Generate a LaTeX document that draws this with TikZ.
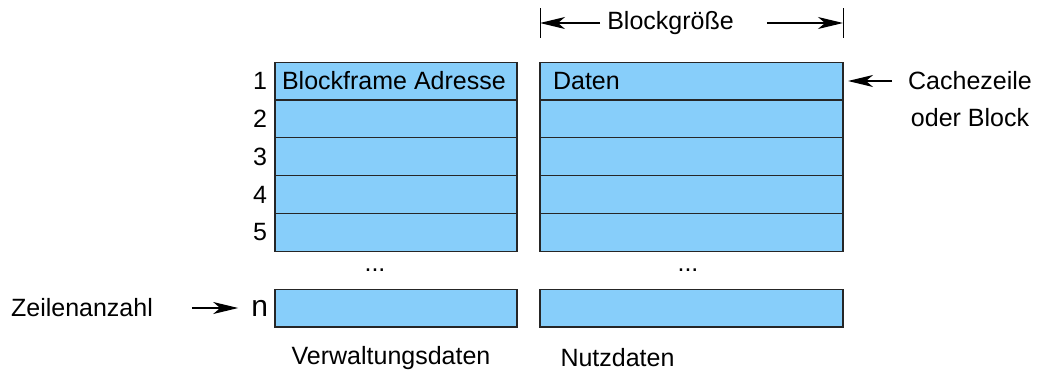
\documentclass[tikz,border=0pt]{standalone}
\usepackage{fontspec}
\setmainfont{Liberation Sans}
\usetikzlibrary{positioning,arrows.meta}
\definecolor{cellblue}{RGB}{135,206,250}

\begin{document}
\begin{tikzpicture} [
	x=0.5pt, y=-0.5pt,
	font=\fontsize{12.5}{18.5}\selectfont,
	node distance=0pt,
	cell/.style={
		rectangle,draw=black!85,line width=0.6pt,
		fill=cellblue,minimum height=18.9pt,outer sep=0pt,inner sep=0pt
	},
	lrow/.style={cell,minimum width=121pt},
	rrow/.style={cell,minimum width=151.5pt},
	arr/.style={-{Stealth[length=12.5pt,width=6pt,inset=3.5pt]},line width=0.6pt}
]
\useasboundingbox (0,0) rectangle (1037,376);
\node [lrow]	(adr1) at (396,81)		{};
\node [lrow]	(adr2)[below=of adr1]	{};
\node [lrow]	(adr3)[below=of adr2]	{};
\node [lrow]	(adr4)[below=of adr3]	{};
\node [lrow]	(adr5)[below=of adr4]	{};
\node [lrow]	(adrn) at (396,308)		{};
\node [rrow]	(dat1) at (691.5,81)	{};
\node [rrow]	(dat2)[below=of dat1]	{};
\node [rrow]	(dat3)[below=of dat2]	{};
\node [rrow]	(dat4)[below=of dat3]	{};
\node [rrow]	(dat5)[below=of dat4]	{};
\node [rrow]	(datn) at (691.5,308)	{};
\node [anchor=west]	(adrtxt) at (adr1.west)	{Blockframe Adresse};
\node [anchor=west]	(dattxt)[right=3pt of dat1.west]	{Daten};
\node	(num1)[left=0.5pt of adr1]	{1};
\node	(num2)[left=0.5pt of adr2]	{2};
\node	(num3)[left=0.5pt of adr3]	{3};
\node	(num4)[left=0.5pt of adr4]	{4};
\node	(num5)[left=0.5pt of adr5]	{5};
\node [font=\fontsize{15}{18}\selectfont]	(numn)[left=0pt of adrn]	{n};
\node	(ldots) at (375,270)	{...};
\node	(rdots) at (688,270)	{...};
\node	(verw) at (391,358)	{Verwaltungsdaten};
\node	(nutz) at (617.5,358)	{Nutzdaten};
% Blockgroesse
\node	(bsize) at (670.5,23)	{Blockgröße};
\coordinate (bsl) at (dat1.north west |- bsize);
\coordinate (bsr) at (dat1.north east |- bsize);
\draw [line width=0.5pt] ([yshift=7.5pt]bsl) -- ([yshift=-7.5pt]bsl);
\draw [line width=0.5pt] ([yshift=7.5pt]bsr) -- ([yshift=-7.5pt]bsr);
\draw [arr] (bsize.west) -- (bsl);
\draw [arr] ([xshift=13pt]bsize.east) -- (bsr);
% Cachezeile
\node [align=center]	(czeile) at (970,99.5)	{Cachezeile\\oder Block};
\draw [arr] ([xshift=-4.5pt]czeile.west |- dat1.east) -- ([xshift=2.5pt]dat1.east);
% Zeilenanzahl
\node	(zanz) at (82,308)	{Zeilenanzahl};
\draw [arr] ([xshift=16pt]zanz.east) -- ([xshift=-3pt]numn.west);
\end{tikzpicture}
\end{document}
